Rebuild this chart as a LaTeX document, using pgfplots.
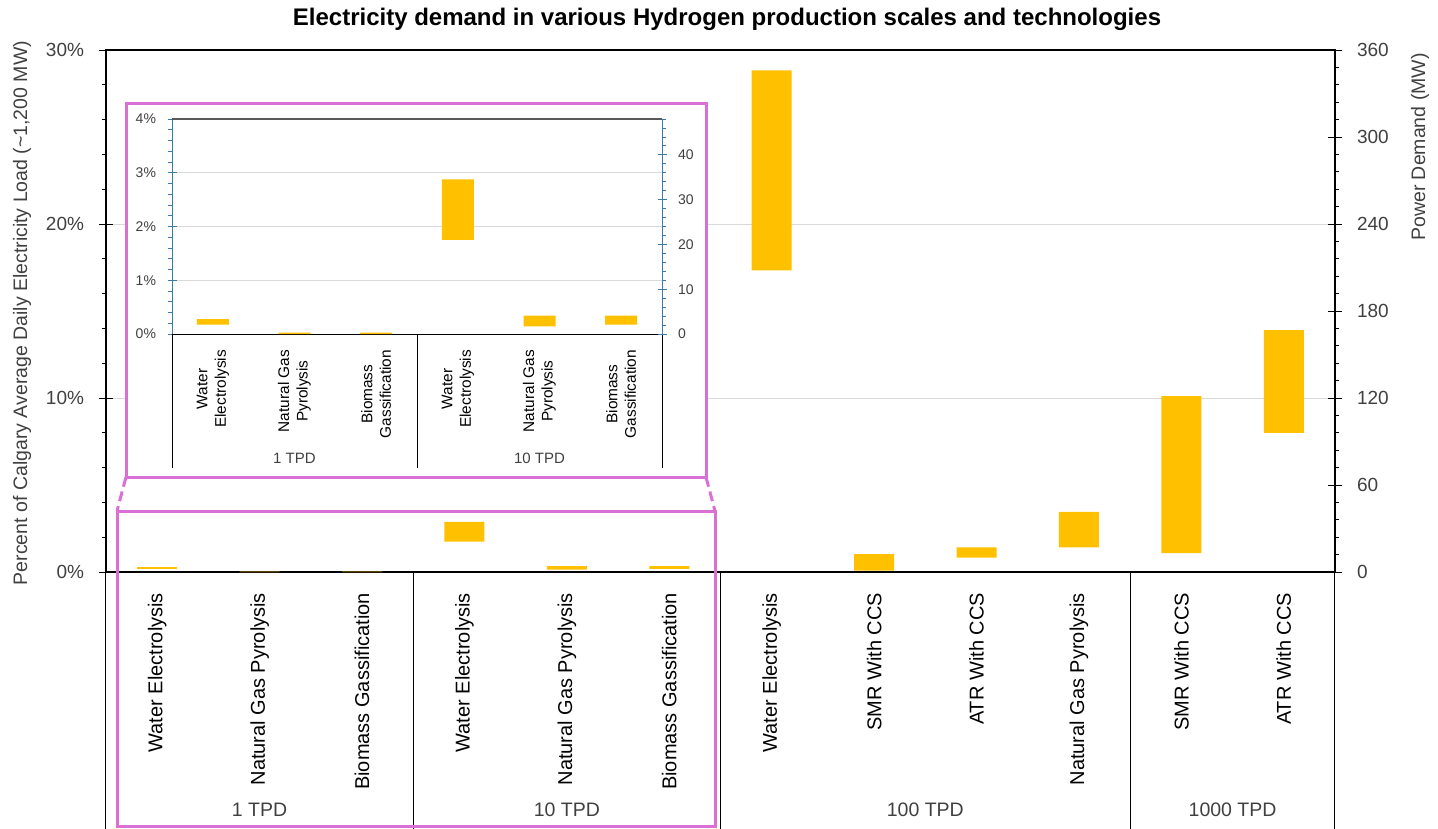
\documentclass[border=0pt]{standalone}
\usepackage{fontspec}
\setmainfont{Liberation Sans}
\usepackage{pgfplots}
\usepackage{pgfplotstable}
\pgfplotsset{compat=1.18}
\definecolor{barc}{HTML}{FFC000}
\definecolor{pinkc}{HTML}{DA70D6}
\definecolor{insblue}{HTML}{3A7CA5}
\definecolor{gridc}{HTML}{D9D9D9}
\definecolor{txt}{HTML}{404040}
\definecolor{topc}{HTML}{595959}

\pgfplotstableread{
x lo hi
0 2.1 3.3
1 0 0.3
2 0 0.3
3 21 34.5
4 1.7 4.1
5 2.1 4.1
6 208 346
7 1 12.3
8 9.9 17
9 17 41.4
10 13.1 121.3
11 95.9 166.9
}\maindata

\pgfplotstableread{
x lo hi
0 2.1 3.3
1 0 0.3
2 0 0.3
3 21 34.5
4 1.7 4.1
5 2.1 4.1
}\insetdata

\begin{document}
\begin{tikzpicture}
\path[use as bounding box] (0,0) rectangle (1438pt,-828pt);

% ---------- main left axis (percent) ----------
\begin{axis}[
  at={(106pt,-572pt)}, anchor=south west, width=1229pt, height=522pt, scale only axis,
  xmin=-0.5, xmax=11.5, ymin=0, ymax=30,
  axis line style={black, line width=1.2pt},
  ytick={0,10,20,30}, minor ytick={2,4,6,8,12,14,16,18,22,24,26,28},
  ytick pos=left, xtick pos=bottom,
  /pgf/number format/assume math mode=true,
  yticklabel={\pgfmathprintnumber{\tick}\%},
  yticklabel style={font=\fontsize{19}{23}\selectfont, text=txt, xshift=-12pt},
  tick align=center, major tick length=13pt, minor tick length=4pt,
  every tick/.style={black, line width=1pt},
  minor y tick style={xshift=-2pt},
  ymajorgrids, major grid style={gridc, line width=1pt},
  xtick={0,...,11},
  xticklabels={Water Electrolysis, Natural Gas Pyrolysis, Biomass Gassification, Water Electrolysis, Natural Gas Pyrolysis, Biomass Gassification, Water Electrolysis, SMR With CCS, ATR With CCS, Natural Gas Pyrolysis, SMR With CCS, ATR With CCS},
  xticklabel style={yshift=-11pt, rotate=90, anchor=east, font=\fontsize{20}{24}\selectfont, text=black},
  major x tick style={draw=none},
  clip=false,
]
\pgfplotsinvokeforeach{-0.5,2.5,5.5,9.5,11.5}{\draw[black, line width=1pt] (axis cs:#1,0) -- ++(0pt,-257pt);}
\node[font=\fontsize{19.5}{23}\selectfont, text=txt, yshift=-238pt] at (axis cs:1,0) {1 TPD};
\node[font=\fontsize{19.5}{23}\selectfont, text=txt, yshift=-238pt] at (axis cs:4,0) {10 TPD};
\node[font=\fontsize{19.5}{23}\selectfont, text=txt, yshift=-238pt] at (axis cs:7.5,0) {100 TPD};
\node[font=\fontsize{19.5}{23}\selectfont, text=txt, yshift=-238pt] at (axis cs:10.5,0) {1000 TPD};
\end{axis}

% ---------- main right axis (MW) with data ----------
\begin{axis}[
  at={(106pt,-572pt)}, anchor=south west, width=1229pt, height=522pt, scale only axis,
  xmin=-0.5, xmax=11.5, ymin=0, ymax=360,
  axis x line=none, axis y line*=right,
  axis line style={black, line width=1.2pt},
  ytick={0,60,...,360}, minor ytick={0,12,...,360},
  /pgf/number format/assume math mode=true,
  yticklabel={\pgfmathprintnumber{\tick}},
  yticklabel style={font=\fontsize{19}{23}\selectfont, text=txt, xshift=12pt},
  tick align=center, major tick length=13pt, minor tick length=4pt,
  every tick/.style={black, line width=1pt},
  minor y tick style={xshift=2pt},
  ybar stacked, bar width=40pt,
]
\addplot[draw=none, fill=none] table[x=x, y=lo]{\maindata};
\addplot[fill=barc, draw=none] table[x=x, y expr=\thisrow{hi}-\thisrow{lo}]{\maindata};
\end{axis}

% axis titles and chart title
\node[font=\bfseries\fontsize{24}{28}\selectfont] at (727pt,-19pt) {Electricity demand in various Hydrogen production scales and technologies};
\node[rotate=90, font=\fontsize{19.5}{23}\selectfont, text=txt] at (22pt,-313pt) {Percent of Calgary Average Daily Electricity Load (\textasciitilde1,200 MW)};
\node[rotate=90, font=\fontsize{19.5}{23}\selectfont, text=txt] at (1420pt,-147pt) {Power Demand (MW)};

% pink boxes
\draw[pinkc, line width=3pt, fill=white] (126pt,-103pt) rectangle (706pt,-477pt);
\draw[pinkc, line width=3pt] (117pt,-511pt) rectangle (715pt,-826pt);
\draw[pinkc, line width=3pt, dash pattern=on 10pt off 5pt] (126pt,-477pt) -- (117pt,-511pt);
\draw[pinkc, line width=3pt, dash pattern=on 10pt off 5pt] (706pt,-477pt) -- (715pt,-511pt);

% ---------- inset left axis ----------
\begin{axis}[
  at={(172pt,-334pt)}, anchor=south west, width=490pt, height=215pt, scale only axis,
  xmin=-0.5, xmax=5.5, ymin=0, ymax=4,
  axis x line*=bottom, axis y line*=left,
  x axis line style={black, line width=1pt, -}, y axis line style={insblue, line width=1pt, -},
  ytick={0,1,2,3,4}, minor ytick={0,0.2,...,4},
  /pgf/number format/assume math mode=true,
  yticklabel={\pgfmathprintnumber{\tick}\%},
  yticklabel style={font=\fontsize{14}{17}\selectfont, text=txt, xshift=-8pt},
  tick align=center, major tick length=9pt, minor tick length=4pt,
  every tick/.style={insblue, line width=0.8pt},
  minor y tick style={xshift=-2pt},
  ymajorgrids, major grid style={gridc, line width=1pt},
  xtick={0,...,5},
  xticklabels={{Water\\Electrolysis}, {Natural Gas\\Pyrolysis}, {Biomass\\Gassification}, {Water\\Electrolysis}, {Natural Gas\\Pyrolysis}, {Biomass\\Gassification}},
  xticklabel style={yshift=-8pt, rotate=90, anchor=east, align=center, font=\fontsize{15.4}{18.5}\selectfont, text=black},
  major x tick style={draw=none},
  clip=false,
]
\draw[topc, line width=1.5pt] (rel axis cs:0,1) -- (rel axis cs:1,1);
\pgfplotsinvokeforeach{-0.5,2.5,5.5}{\draw[black, line width=1pt] (axis cs:#1,0) -- ++(0pt,-134pt);}
\node[font=\fontsize{15}{18}\selectfont, text=txt, yshift=-124pt] at (axis cs:1,0) {1 TPD};
\node[font=\fontsize{15}{18}\selectfont, text=txt, yshift=-124pt] at (axis cs:4,0) {10 TPD};
\end{axis}

% ---------- inset right axis with data ----------
\begin{axis}[
  at={(172pt,-334pt)}, anchor=south west, width=490pt, height=215pt, scale only axis,
  xmin=-0.5, xmax=5.5, ymin=0, ymax=48,
  axis x line=none, axis y line*=right,
  y axis line style={insblue, line width=1pt, -},
  ytick={0,10,...,40}, minor ytick={0,2,...,48},
  /pgf/number format/assume math mode=true,
  yticklabel={\pgfmathprintnumber{\tick}},
  yticklabel style={font=\fontsize{14}{17}\selectfont, text=txt, xshift=8pt},
  tick align=center, major tick length=9pt, minor tick length=4pt,
  every tick/.style={insblue, line width=0.8pt},
  minor y tick style={xshift=2pt},
  ybar stacked, bar width=32pt,
]
\addplot[draw=none, fill=none] table[x=x, y=lo]{\insetdata};
\addplot[fill=barc, draw=none] table[x=x, y expr=\thisrow{hi}-\thisrow{lo}]{\insetdata};
\end{axis}
\end{tikzpicture}
\end{document}
